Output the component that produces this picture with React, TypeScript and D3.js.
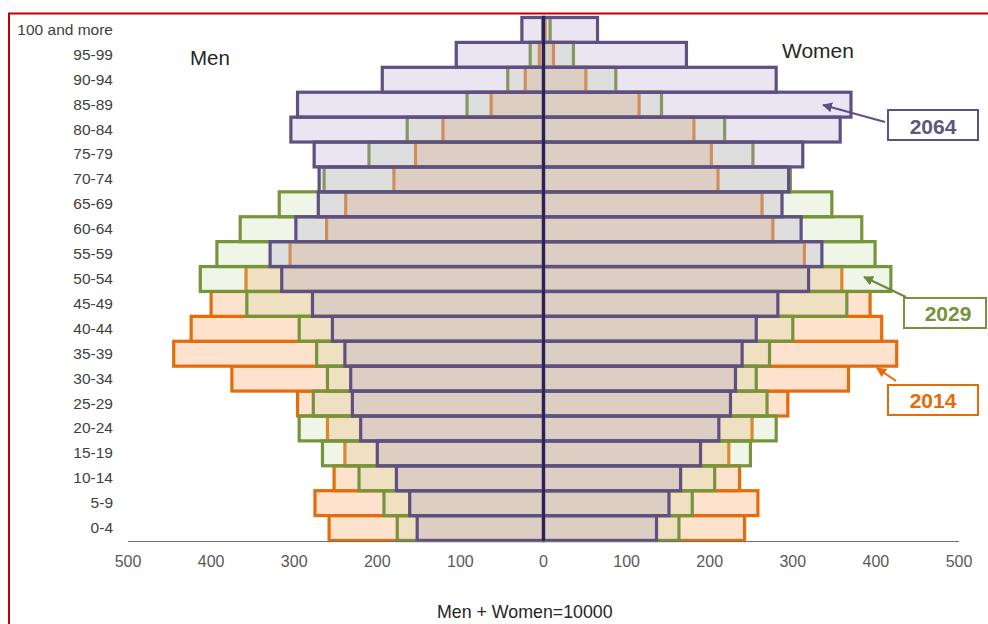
import React from "react";
import * as d3 from "d3";

const ages = ["0-4","5-9","10-14","15-19","20-24","25-29","30-34","35-39","40-44","45-49","50-54","55-59","60-64","65-69","70-74","75-79","80-84","85-89","90-94","95-99","100 and more"];

const men2014 = [258,275,252,239,260,296,375,445,424,400,358,305,261,238,180,154,121,63,22,5,1];
const women2014 = [242,258,236,223,251,294,367,425,407,393,359,314,276,263,210,202,181,115,51,12,2];
const men2029 = [176,192,222,266,294,277,260,273,294,357,413,393,365,318,264,210,164,92,43,16,1];
const women2029 = [163,179,206,249,280,269,256,272,300,365,418,399,383,347,297,252,218,142,87,36,8];
const men2064 = [152,161,177,200,220,230,232,239,254,278,315,329,298,271,270,276,304,296,194,105,26];
const women2064 = [136,151,165,189,211,225,231,239,256,282,319,335,310,287,295,312,357,370,280,172,65];

const tickValues = [0,100,200,300,400,500];

const W = 988, H = 624;
const CX = 543.5, HALF = 415.5;
const FONT = "'Liberation Sans', Arial, Helvetica, sans-serif";

export default function App() {
  const xMen = d3.scaleLinear().domain([0, 500]).range([CX, CX - HALF]);
  const xWomen = d3.scaleLinear().domain([0, 500]).range([CX, CX + HALF]);
  const y = d3.scaleBand<string>().domain(ages).range([540.5, 17.5]).padding(0);
  const bw = y.bandwidth();

  const layers = [
    { key: "2014", men: men2014, women: women2014, stroke: "#e46c0a", fill: "#fde2cd" },
    { key: "2029", men: men2029, women: women2029, stroke: "#77933c", fill: "rgba(195,218,160,0.25)" },
    { key: "2064", men: men2064, women: women2064, stroke: "#5e5082", fill: "rgba(178,162,205,0.28)" },
  ];

  return (
    <svg width={W} height={H} style={{ position: "absolute", left: 0, top: 0, background: "#fff" }} fontFamily={FONT}>
      <rect x={0} y={0} width={W} height={H} fill="#fff" />
      <rect x={9} y={13.5} width={1000} height={700} fill="none" stroke="#c00000" strokeWidth={2} />

      {layers.map((L) => (
        <g key={L.key}>
          {ages.map((a, i) => (
            <g key={a}>
              <rect x={xMen(L.men[i])} y={y(a)} width={CX - xMen(L.men[i])} height={bw}
                fill={L.fill} stroke={L.stroke} strokeWidth={3.2} />
              <rect x={CX} y={y(a)} width={xWomen(L.women[i]) - CX} height={bw}
                fill={L.fill} stroke={L.stroke} strokeWidth={3.2} />
            </g>
          ))}
        </g>
      ))}

      {/* center line */}
      <line x1={CX} x2={CX} y1={16} y2={541} stroke="#28235f" strokeWidth={3} />

      {/* x axis */}
      <line x1={xMen(500)} x2={xWomen(500)} y1={541.5} y2={541.5} stroke="#707070" strokeWidth={1.2} />
      {tickValues.filter((t) => t > 0).map((t) => (
        <text key={"m" + t} x={xMen(t)} y={567} textAnchor="middle" fontSize={16} fill="#595959">{t}</text>
      ))}
      {tickValues.map((t) => (
        <text key={"w" + t} x={xWomen(t)} y={567} textAnchor="middle" fontSize={16} fill="#595959">{t}</text>
      ))}

      {/* y labels */}
      {ages.map((a) => (
        <text key={a} x={113} y={(y(a) as number) + bw / 2 + 5} textAnchor="end" fontSize={15.5} fill="#404040">{a}</text>
      ))}

      <text x={190} y={65} fontSize={20.5} fill="#262626">Men</text>
      <text x={782} y={58} fontSize={21} fill="#262626">Women</text>
      <text x={437} y={618} fontSize={17.8} fill="#262626">Men + Women=10000</text>

      <defs>
        <marker id="ah-p" viewBox="0 0 10 10" refX="9" refY="5" markerWidth="5" markerHeight="5" orient="auto">
          <path d="M0,0 L10,5 L0,10 z" fill="#5e5082" />
        </marker>
        <marker id="ah-g" viewBox="0 0 10 10" refX="9" refY="5" markerWidth="5" markerHeight="5" orient="auto">
          <path d="M0,0 L10,5 L0,10 z" fill="#6b8a3a" />
        </marker>
        <marker id="ah-o" viewBox="0 0 10 10" refX="9" refY="5" markerWidth="5" markerHeight="5" orient="auto">
          <path d="M0,0 L10,5 L0,10 z" fill="#e46c0a" />
        </marker>
      </defs>

      {/* 2064 annotation */}
      <line x1={885} y1={122} x2={823} y2={105} stroke="#5e5082" strokeWidth={2} markerEnd="url(#ah-p)" />
      <rect x={888} y={110} width={90} height={30} fill="#fff" stroke="#5e5082" strokeWidth={2} />
      <text x={933} y={134} textAnchor="middle" fontSize={21} fontWeight="bold" fill="#5e5580">2064</text>

      {/* 2029 annotation */}
      <line x1={906} y1={297} x2={864} y2={277} stroke="#6b8a3a" strokeWidth={2} markerEnd="url(#ah-g)" />
      <rect x={904} y={298} width={82} height={30} fill="#fff" stroke="#77933c" strokeWidth={2} />
      <text x={948} y={321} textAnchor="middle" fontSize={21} fontWeight="bold" fill="#77933c">2029</text>

      {/* 2014 annotation */}
      <line x1={896} y1={381} x2={877} y2={368} stroke="#e46c0a" strokeWidth={2} markerEnd="url(#ah-o)" />
      <rect x={888} y={385} width={90} height={30} fill="#fff" stroke="#e46c0a" strokeWidth={2} />
      <text x={933} y={408} textAnchor="middle" fontSize={21} fontWeight="bold" fill="#e46c0a">2014</text>
    </svg>
  );
}
